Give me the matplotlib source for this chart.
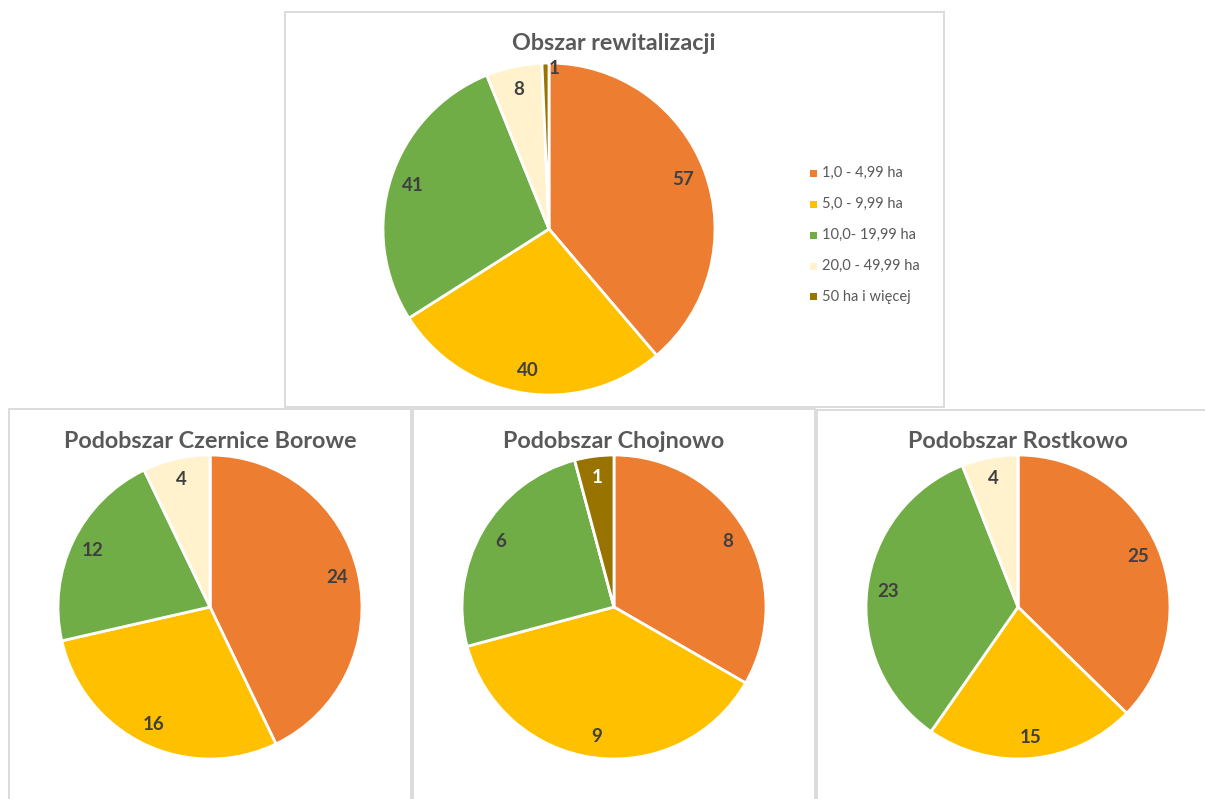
import numpy as np
import matplotlib.pyplot as plt
from matplotlib.patches import Rectangle

# Dane
kategorie = ["1,0 - 4,99 ha", "5,0 - 9,99 ha", "10,0- 19,99 ha", "20,0 - 49,99 ha", "50 ha i więcej"]
kolory = ["#ED7D31", "#FFC000", "#70AD47", "#FFF2CC", "#997300"]

tytuly = ["Obszar rewitalizacji", "Podobszar Czernice Borowe", "Podobszar Chojnowo", "Podobszar Rostkowo"]
obszar = [57, 40, 41, 8, 1]
czernice = [24, 16, 12, 4, 0]
chojnowo = [8, 9, 6, 0, 1]
rostkowo = [25, 15, 23, 4, 0]
serie = [obszar, czernice, chojnowo, rostkowo]

W, H = 1205, 799
plt.rcParams['font.family'] = ['Lato', 'DejaVu Sans']

fig = plt.figure(figsize=(W / 100, H / 100), dpi=100)

def fx(x):
    return x / W

def fy(y):
    return 1 - y / H

# Ramki wykresów (piksele: x0, y0, x1, y1)
ramki = [(285, 12, 944, 407), (9, 409, 411, 805), (413, 409, 815, 805), (817, 410, 1210, 805)]
for x0, y0, x1, y1 in ramki:
    fig.patches.append(Rectangle((fx(x0), fy(y1)), fx(x1 - x0), (y1 - y0) / H,
                                 transform=fig.transFigure, fill=False,
                                 edgecolor="#D9D9D9", linewidth=1.3))

# Środki i promienie kół (piksele)
srodki = [(549, 229, 166), (210, 607, 152), (614, 607, 152), (1018, 607, 152)]
tytul_pos = [(614, 44), (210, 441), (614, 441), (1018, 441)]

for dane, (cx, cy, r), tytul, (tx, ty) in zip(serie, srodki, tytuly, tytul_pos):
    ax = fig.add_axes([fx(cx - r), fy(cy + r), 2 * r / W, 2 * r / H])
    wedges, _ = ax.pie(dane, colors=kolory, startangle=90, counterclock=False,
                       wedgeprops=dict(edgecolor="white", linewidth=2))
    ax.set_xlim(-1, 1)
    ax.set_ylim(-1, 1)
    ax.set_aspect("equal")
    ax.axis("off")
    suma = sum(dane)
    for w, v, kol in zip(wedges, dane, kolory):
        if v == 0:
            continue
        kat = np.deg2rad((w.theta1 + w.theta2) / 2)
        d = 0.86
        if v / suma < 0.02:
            d = 0.97
            kat -= np.deg2rad(3)
        kolor_txt = "white" if kol == "#997300" and d < 0.9 else "#404040"
        ax.text(d * np.cos(kat), d * np.sin(kat), str(v), ha="center", va="center",
                fontsize=13.5, fontweight="bold", color=kolor_txt)
    fig.text(fx(tx), fy(ty), tytul, ha="center", va="center", fontsize=16.8,
             fontweight="bold", color="#595959")

# Legenda
for i, (kat_nazwa, kol) in enumerate(zip(kategorie, kolory)):
    yy = 173 + i * 31
    fig.patches.append(Rectangle((fx(810), fy(yy + 3.5)), 7 / W, 7 / H,
                                 transform=fig.transFigure, facecolor=kol, edgecolor="none"))
    fig.text(fx(822), fy(yy), kat_nazwa, ha="left", va="center", fontsize=10.5, color="#595959")

plt.savefig("out.png", dpi=100)
